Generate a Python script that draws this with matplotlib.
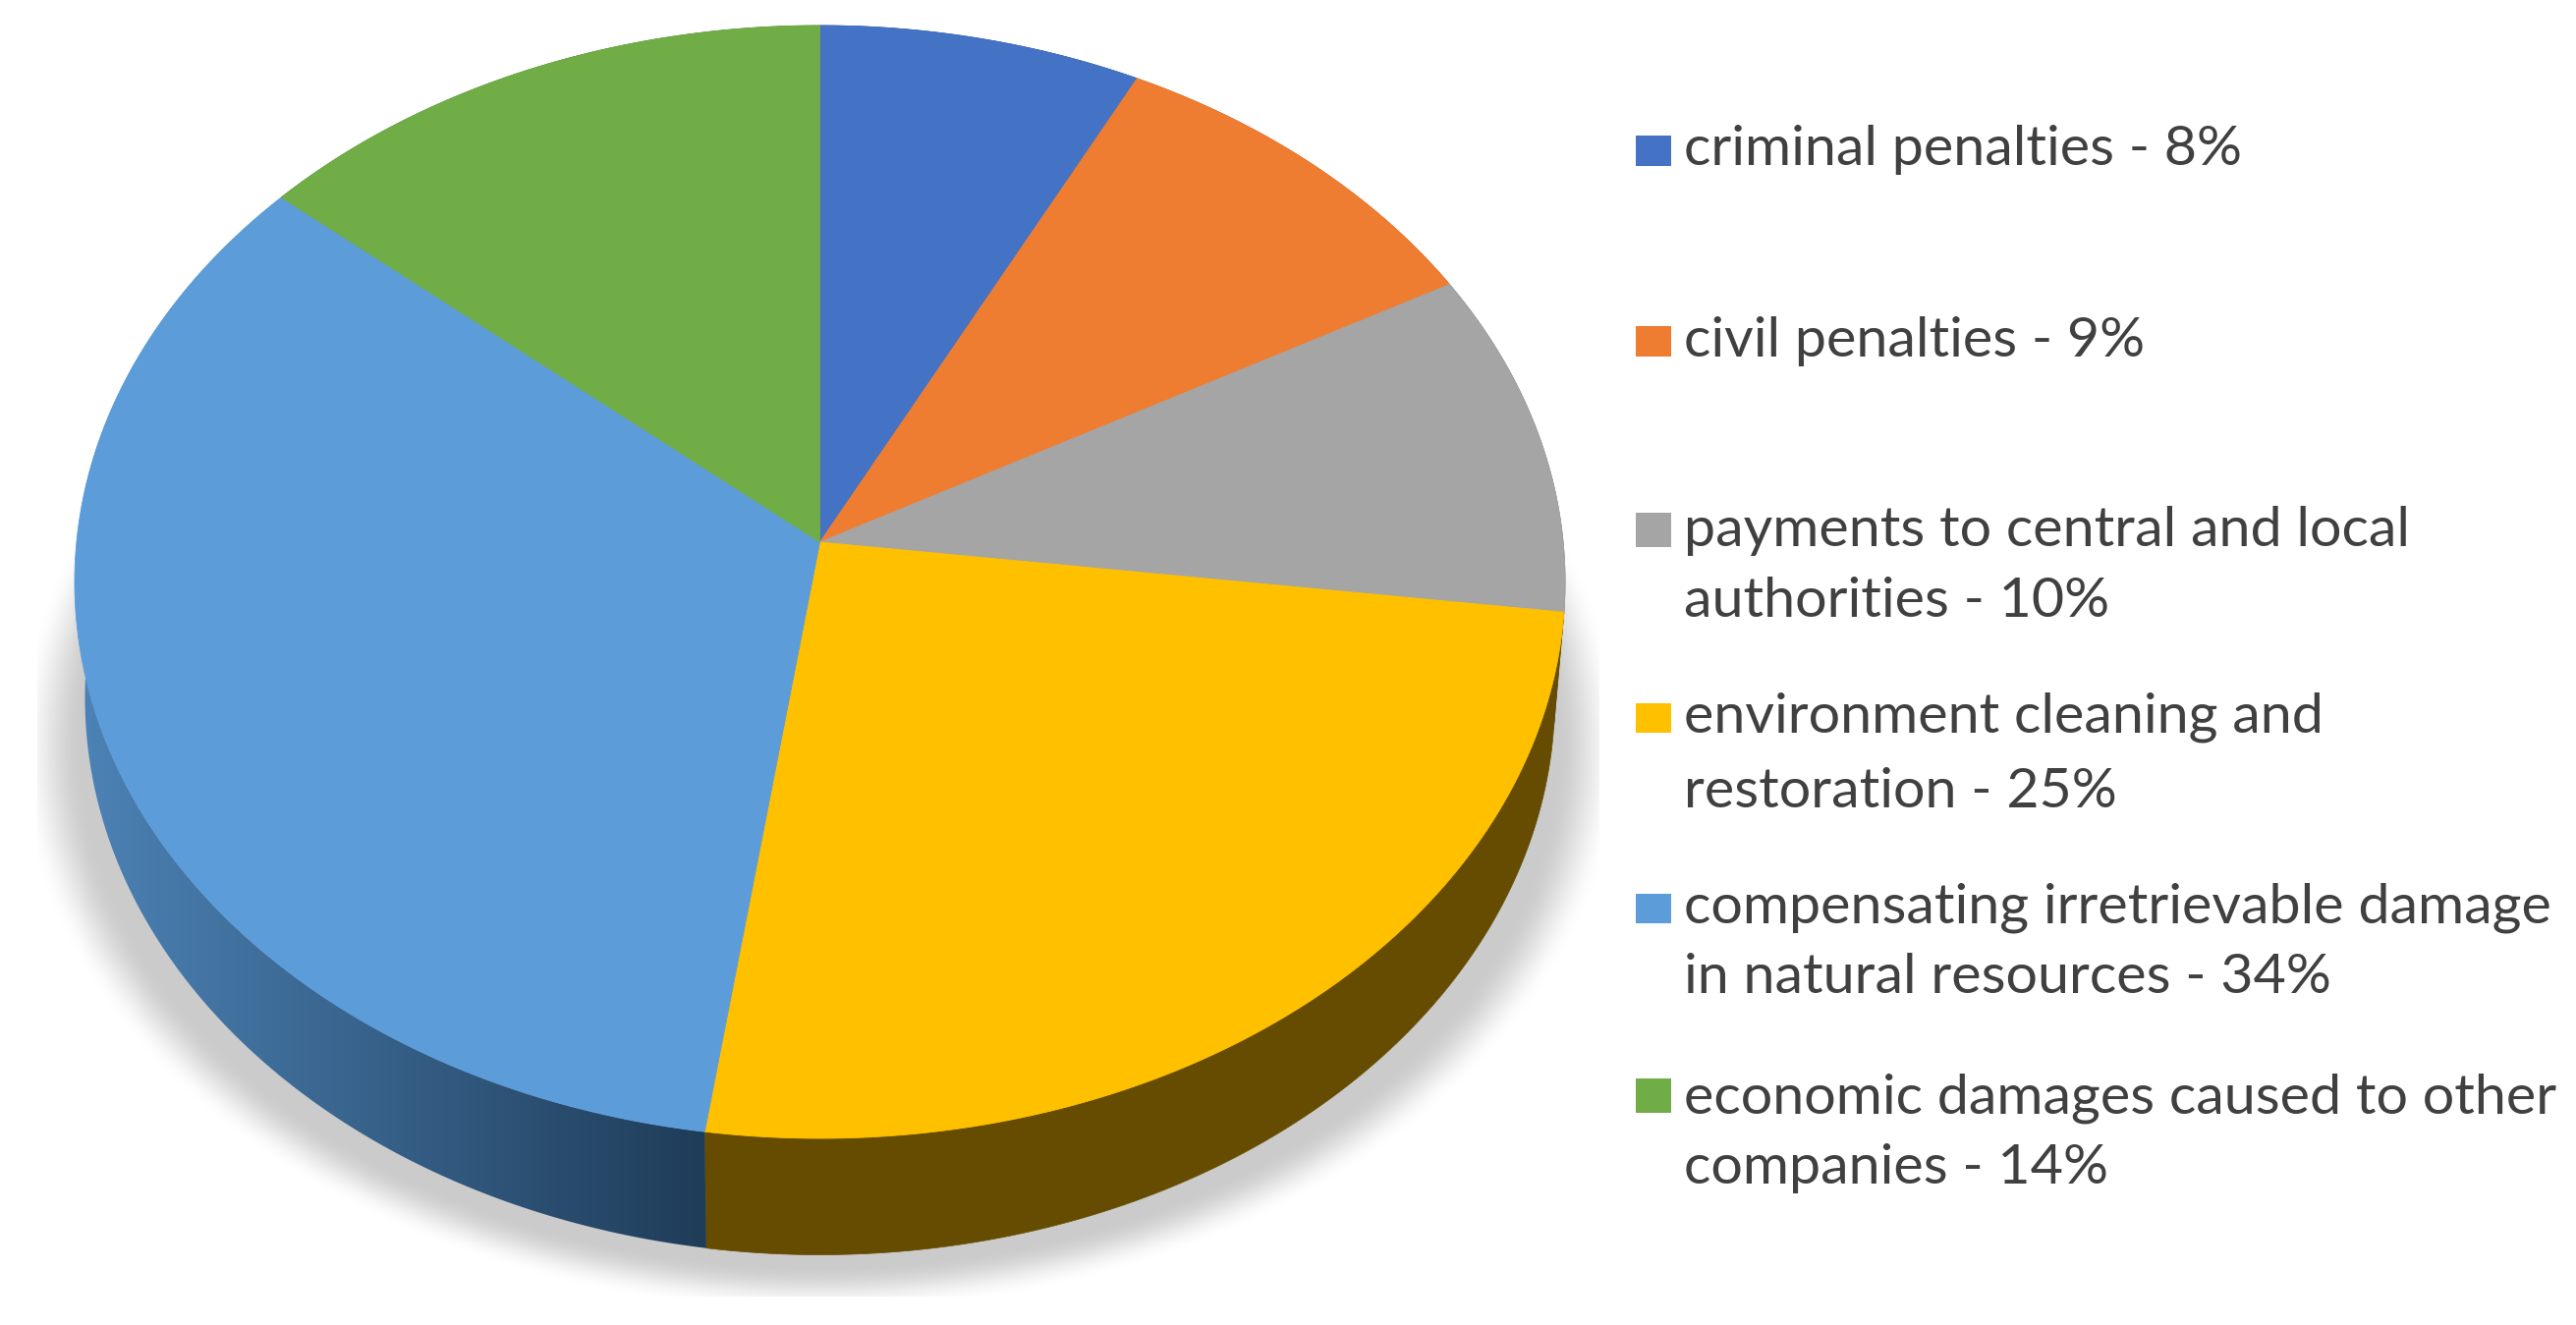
import numpy as np
import matplotlib
matplotlib.use("Agg")
import matplotlib.pyplot as plt
from matplotlib.colors import to_rgb
from matplotlib.patches import Polygon, Rectangle

W, H = 2622, 1349

# ---- data ----
values = [7.5, 9.5, 10.0, 25.3, 34.0, 13.7]   # slice sizes
top_colors = ["#4472C4", "#EE7D31", "#A5A5A5", "#FFC000", "#5C9CD9", "#70AD47"]
wall_colors = ["#29447A", "#8F4B1D", "#636363", "#664C00", "#2F5F8C", "#43682B"]
legend_lines = [
    ["criminal penalties - 8%"],
    ["civil penalties - 9%"],
    ["payments to central and local", "authorities - 10%"],
    ["environment cleaning and", "restoration - 25%"],
    ["compensating irretrievable damage", "in natural resources - 34%"],
    ["economic damages caused to other", "companies - 14%"],
]
legend_baselines = [[168], [363], [556, 628], [746, 822], [939, 1011], [1133, 1205]]
legend_boxes = [(138, 169), (332, 363), (522, 557), (716, 746), (910, 940), (1098, 1133)]

# ---- layout of the projected pie ----
CX, CY, RX, RY = 834.5, 592.5, 758.5, 566.5
APEX_Y = 552.0
K = (CY - APEX_Y) / RY
A = RX * np.sqrt(1 - K ** 2)
LOW_RX, LOW_CY = 748.0, 711.0


def project(frac):
    t = 2 * np.pi * np.asarray(frac, float)
    u, v = np.sin(t), np.cos(t)
    w = 1 + K * v
    return CX + A * u / w, CY - (RY * v + RY * K) / w


def lower(x, y):
    return CX + (x - CX) * LOW_RX / RX, LOW_CY + (y - CY)


fig = plt.figure(figsize=(W / 100, H / 100), dpi=100, facecolor="white")
ax = fig.add_axes([0, 0, 1, 1])

# soft, clipped drop shadow
yy, xx = np.mgrid[0:1320, 0:W]
r = np.hypot((xx + 0.5 - 834) / 815, (yy + 0.5 - 760) / 575)
alpha = np.clip((1.0 - r) / 0.08, 0, 1)
alpha = alpha * alpha * (3 - 2 * alpha)
alpha[:, :38] = 0
alpha[:, 1628:] = 0
shadow = np.zeros(alpha.shape + (4,))
shadow[..., :3] = 0.797
shadow[..., 3] = alpha
ax.imshow(shadow, extent=(0, W, 1320, 0), aspect="auto", zorder=1, interpolation="bilinear")

edges = np.concatenate([[0], np.cumsum(values)]) / np.sum(values)

# side walls
for i in range(len(values)):
    f = np.linspace(edges[i], edges[i + 1], 200)
    x, y = project(f)
    xl, yl = lower(x, y)
    pts = np.column_stack([np.r_[x, xl[::-1]], np.r_[y, yl[::-1]]])
    if i == 4:  # the large blue wall fades from left to right
        g0, g1 = np.array(to_rgb("#4C82B5")), np.array(to_rgb("#1F3C58"))
        s = np.linspace(0, 1, 256)[None, :, None]
        grad = g0 + (g1 - g0) * s
        poly = Polygon(pts, closed=True, transform=ax.transData, fc="none", ec="none")
        ax.add_patch(poly)
        im = ax.imshow(grad, extent=(85, pts[:, 0].max() + 2, H, 0), aspect="auto", zorder=2)
        im.set_clip_path(poly)
    else:
        ax.fill(pts[:, 0], pts[:, 1], color=wall_colors[i], lw=0.5, zorder=2)

# top faces
for i in range(len(values)):
    f = np.linspace(edges[i], edges[i + 1], 300)
    x, y = project(f)
    ax.fill(np.r_[CX, x], np.r_[APEX_Y, y], color=top_colors[i], lw=0.6, zorder=3)

# legend
text_kw = dict(family=["Lato", "DejaVu Sans"], color="#404040", va="baseline", ha="left", zorder=5)
probe = ax.text(0, 0, legend_lines[4][0], fontsize=40, **text_kw)
fig.canvas.draw()
width = probe.get_window_extent().width
probe.remove()
fs = 40 * 882 / width

for color, box, lines, bases in zip(top_colors, legend_boxes, legend_lines, legend_baselines):
    ax.add_patch(Rectangle((1665, box[0]), 36, box[1] - box[0], fc=color, ec="none", zorder=5))
    for line, base in zip(lines, bases):
        ax.text(1714, base, line, fontsize=fs, **text_kw)

ax.set_xlim(0, W)
ax.set_ylim(H, 0)
ax.axis("off")
fig.savefig("out.png", dpi=100, facecolor="white")
